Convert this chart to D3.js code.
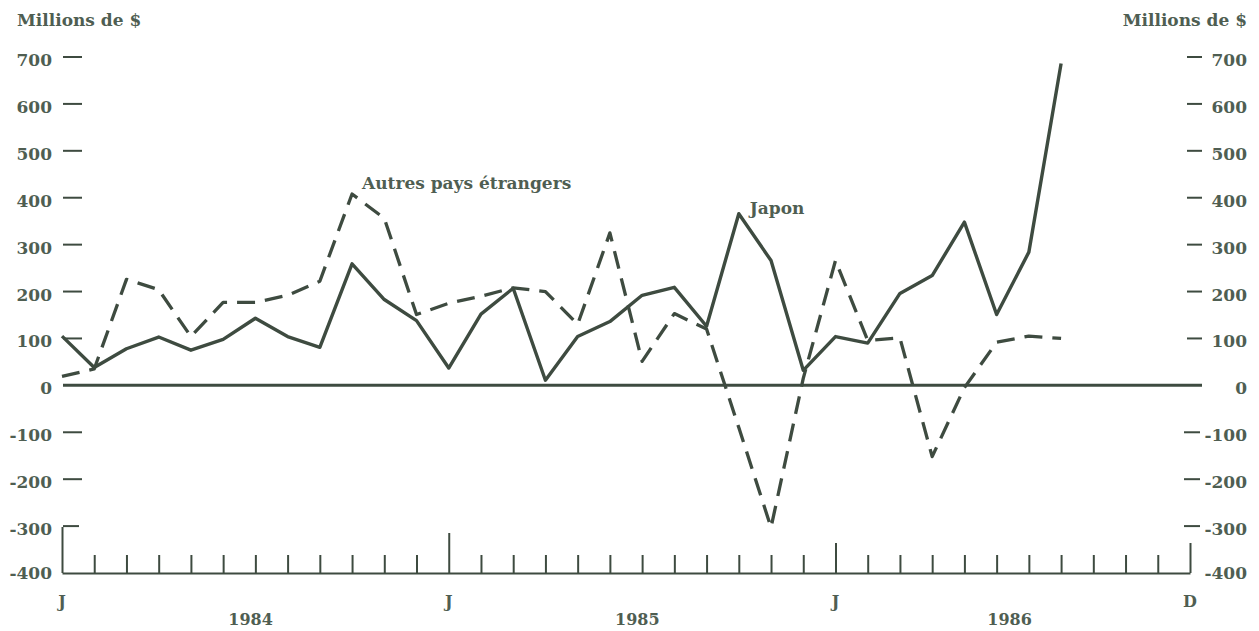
<!DOCTYPE html>
<html>
<head>
<meta charset="utf-8">
<script src="https://cdn.jsdelivr.net/npm/d3@7/dist/d3.min.js"></script>
<style>
  body { margin: 0; background: #fff; }
  svg { display: block; }
  text { font-family: "DejaVu Serif", "Liberation Serif", serif; fill: #4f5e52; }
</style>
</head>
<body>
<svg id="chart" width="1259" height="631"></svg>
<script>
// ---------- DATA ----------
// Months Jan 1984 .. Dec 1986 (index 0..35)
const months = [
  "1984-01","1984-02","1984-03","1984-04","1984-05","1984-06","1984-07","1984-08","1984-09","1984-10","1984-11","1984-12",
  "1985-01","1985-02","1985-03","1985-04","1985-05","1985-06","1985-07","1985-08","1985-09","1985-10","1985-11","1985-12",
  "1986-01","1986-02","1986-03","1986-04","1986-05","1986-06","1986-07","1986-08","1986-09","1986-10","1986-11","1986-12"
];
// Japon (solid), Jan 1984 .. Aug 1986, millions de $
const japon = [105, 38, 78, 103, 75, 98, 143, 104, 81, 259, 183, 138,
               37, 152, 207, 11, 104, 136, 192, 209, 126, 366, 266, 32,
               104, 90, 196, 234, 348, 151, 284, 686];
// Autres pays étrangers (dashed), Jan 1984 .. Aug 1986
const autres = [19, 35, 226, 204, 104, 177, 177, 192, 222, 408, 356, 151,
                175, 190, 208, 200, 130, 325, 51, 153, 120, -90, -303, 15,
                266, 96, 101, -152, -5, 92, 105, 100];
const yTicks = [700, 600, 500, 400, 300, 200, 100, 0, -100, -200, -300, -400];
const monthLabelIdx = [0, 12, 24, 35];
const monthLabels = ["J", "J", "J", "D"];
const yearLabelPos = [5.85, 17.85, 29.4];
const yearLabels = ["1984", "1985", "1986"];
const seriesNames = ["Japon", "Autres pays étrangers"];
const axisTitle = "Millions de $";

// ---------- LAYOUT ----------
const ink = "#3e4b40";
const svg = d3.select("#chart");
const x = d3.scaleLinear().domain([0, months.length - 1]).range([62, 1190]);
const y = d3.scaleLinear().domain([-400, 700]).range([573, 57]);

// Titles
svg.append("text").attr("x", 17).attr("y", 26).attr("font-size", 17).attr("font-weight", "bold")
  .text(axisTitle);
svg.append("text").attr("x", 1247).attr("y", 26).attr("font-size", 17).attr("font-weight", "bold")
  .attr("text-anchor", "end").text(axisTitle);

// Left axis labels
const leftAxis = d3.axisLeft(y).tickValues(yTicks).tickSize(0).tickPadding(0)
  .tickFormat(d => String(d));
const gl = svg.append("g").attr("transform", "translate(52,0)").call(leftAxis);
gl.select(".domain").remove();
gl.selectAll("text").attr("font-size", 17).attr("font-family", "DejaVu Serif")
  .attr("fill", "#4f5e52").attr("dy", "0.38em").attr("font-weight", "bold")
  .attr("transform", d => d === -400 ? "translate(0,-1)" : "translate(0,2)");

// Right axis labels
const rightAxis = d3.axisRight(y).tickValues(yTicks).tickSize(0).tickPadding(0)
  .tickFormat(d => String(d));
const gr = svg.append("g").attr("transform", "translate(1247,0)").call(rightAxis);
gr.select(".domain").remove();
gr.selectAll("text").attr("font-size", 17).attr("font-family", "DejaVu Serif")
  .attr("fill", "#4f5e52").attr("dy", "0.38em").attr("text-anchor", "end").attr("font-weight", "bold")
  .attr("transform", d => d === -400 ? "translate(0,-1)" : "translate(0,2)");

// Dash ticks (left and right)
const dashVals = yTicks.filter(v => v !== 0 && v !== -400);
svg.append("g").selectAll("line").data(dashVals).join("line")
  .attr("x1", 63).attr("x2", d => d === -300 ? 79 : 82)
  .attr("y1", d => y(d)).attr("y2", d => y(d))
  .attr("stroke", ink).attr("stroke-width", 2);
svg.append("g").selectAll("line").data(dashVals).join("line")
  .attr("x1", d => d < 0 ? 1184 : 1187).attr("x2", d => d < 0 ? 1200 : 1202)
  .attr("y1", d => y(d)).attr("y2", d => y(d))
  .attr("stroke", ink).attr("stroke-width", 2);

// Zero line
svg.append("line").attr("x1", 63).attr("x2", 1202).attr("y1", y(0)).attr("y2", y(0))
  .attr("stroke", ink).attr("stroke-width", 3);

// Bottom time axis
const tickLen = i => (i === 0 ? 46 : i === 12 ? 40 : (i === 24 || i === 35) ? 30 : 18);
const bottomAxis = d3.axisBottom(x).tickValues(d3.range(months.length)).tickSize(0).tickFormat("");
const gb = svg.append("g").attr("transform", `translate(0,${y(-400)})`).call(bottomAxis);
gb.select(".domain").attr("stroke", ink).attr("stroke-width", 2);
gb.selectAll(".tick line").attr("y2", d => -tickLen(d)).attr("stroke", ink).attr("stroke-width", 2);

// Month labels
svg.append("g").selectAll("text").data(monthLabelIdx).join("text")
  .attr("x", d => x(d)).attr("y", 607).attr("text-anchor", "middle")
  .attr("font-size", 16).attr("font-weight", "bold")
  .text((d, i) => monthLabels[i]);
// Year labels
svg.append("g").selectAll("text").data(yearLabelPos).join("text")
  .attr("x", d => x(d)).attr("y", 625).attr("text-anchor", "middle")
  .attr("font-size", 16).attr("font-weight", "bold")
  .text((d, i) => yearLabels[i]);

// Lines
const line = d3.line().x((d, i) => x(i)).y(d => y(d));
svg.append("path").datum(autres).attr("d", line)
  .attr("fill", "none").attr("stroke", ink).attr("stroke-width", 3.3)
  .attr("stroke-dasharray", "18,10").attr("stroke-linejoin", "round");
svg.append("path").datum(japon).attr("d", line)
  .attr("fill", "none").attr("stroke", ink).attr("stroke-width", 3.4)
  .attr("stroke-linejoin", "round");

// Series labels
const iJ = japon.indexOf(d3.max(japon.slice(0, 30)));
svg.append("text").attr("x", x(iJ) + 11).attr("y", y(japon[iJ]))
  .attr("font-size", 17).attr("font-weight", "bold").text(seriesNames[0]);
const iA = autres.indexOf(d3.max(autres));
svg.append("text").attr("x", x(iA) + 10).attr("y", y(autres[iA]) - 5)
  .attr("font-size", 17).attr("font-weight", "bold").text(seriesNames[1]);
</script>
</body>
</html>
